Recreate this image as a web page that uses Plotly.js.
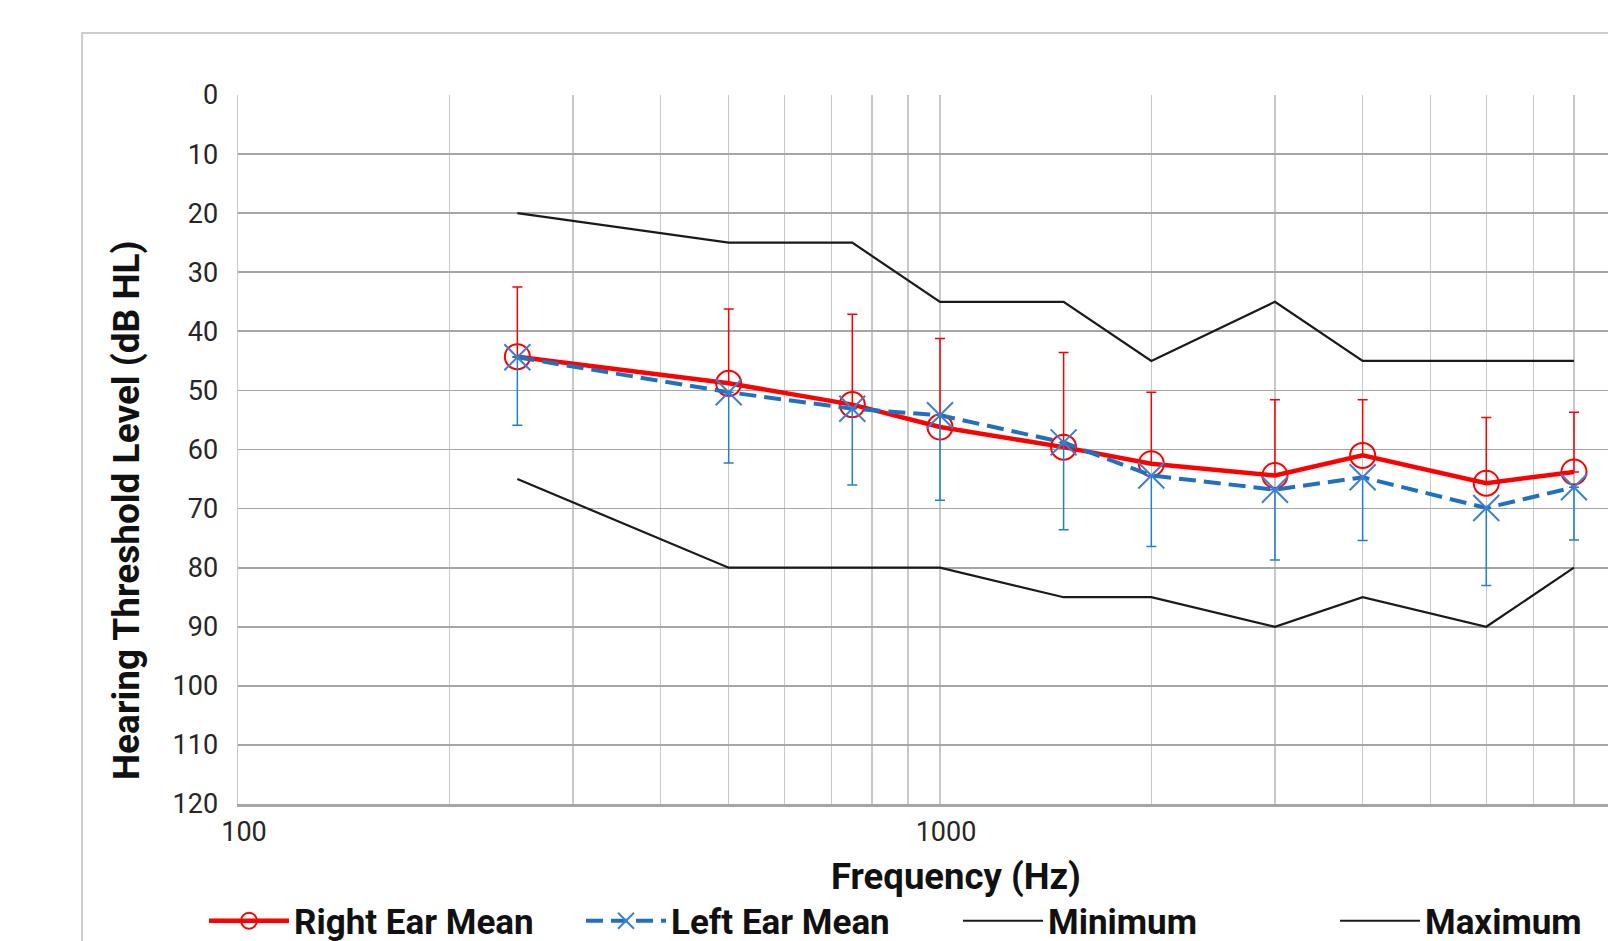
<!DOCTYPE html>
<html>
<head>
<meta charset="utf-8">
<script src="https://cdn.plot.ly/plotly-3.0.1.min.js"></script>
<style>
html, body { margin: 0; padding: 0; overflow: hidden; background: #ffffff; }
#chart { width: 1950px; height: 980px; }
</style>
</head>
<body>
<div id="chart"></div>
<script>
// ---- data ----
const frequencies = [250, 500, 750, 1000, 1500, 2000, 3000, 4000, 6000, 8000];
const rightEarMean = [44.3, 48.8, 52.4, 56.2, 59.6, 62.4, 64.4, 61.0, 65.7, 63.8];
const rightEarSD   = [11.8, 12.6, 15.3, 15.0, 16.0, 12.1, 12.8, 9.4, 11.1, 10.1];
const leftEarMean  = [44.4, 50.3, 53.1, 54.2, 58.8, 64.4, 66.8, 64.7, 69.9, 66.4];
const leftEarSD    = [11.5, 12.0, 12.9, 14.4, 14.8, 12.0, 11.9, 10.7, 13.1, 8.9];
const minimumHL    = [20, 25, 25, 35, 35, 45, 35, 45, 45, 45];
const maximumHL    = [65, 80, 80, 80, 85, 85, 90, 85, 90, 80];
const seriesNames  = ['Right Ear Mean', 'Left Ear Mean', 'Minimum', 'Maximum'];
const xTickVals    = [100, 1000, 10000];
const xTickText    = ['100', '1000', '10000'];
const xMinorVals   = [200, 300, 400, 500, 600, 700, 800, 900, 2000, 3000, 4000, 5000, 6000, 7000, 8000, 9000];
const yTickVals    = [0, 10, 20, 30, 40, 50, 60, 70, 80, 90, 100, 110, 120];
const xTitle = 'Frequency (Hz)';
const yTitle = 'Hearing Threshold Level (dB HL)';

const zeros = frequencies.map(() => 0);
const FONT = 'Roboto, "Open Sans", sans-serif';

const traces = [
  {
    name: seriesNames[0], x: frequencies, y: rightEarMean, type: 'scatter', mode: 'lines+markers',
    line: { color: '#ff0000', width: 4.5 },
    marker: { symbol: 'circle-open', size: 25, color: '#ff0000', line: { width: 2, color: '#ff0000' } },
    error_y: { type: 'data', symmetric: false, array: zeros, arrayminus: rightEarSD,
               color: '#ff0000', thickness: 1.5, width: 5 }
  },
  {
    name: seriesNames[1], x: frequencies, y: leftEarMean, type: 'scatter', mode: 'lines+markers',
    line: { color: '#1f70c1', width: 4, dash: '17px,8px' },
    marker: { symbol: 'x-thin-open', size: 26, color: '#3d7fd0', line: { width: 2, color: '#3d7fd0' } },
    error_y: { type: 'data', symmetric: false, array: leftEarSD, arrayminus: zeros,
               color: '#2080d0', thickness: 1.5, width: 5 }
  },
  {
    name: seriesNames[2], x: frequencies, y: minimumHL, type: 'scatter', mode: 'lines',
    line: { color: '#1a1a1a', width: 2.2 }
  },
  {
    name: seriesNames[3], x: frequencies, y: maximumHL, type: 'scatter', mode: 'lines',
    line: { color: '#1a1a1a', width: 2.2 }
  }
];

const W = 1950, H = 980;
const L = 238, T = 95, PW = 1404, PH = 709;
const px2x = p => (p - L) / PW;
const px2y = p => (T + PH - p) / PH;

const layout = {
  width: W, height: H,
  margin: { l: L, r: W - L - PW, t: T, b: H - T - PH, pad: 0 },
  paper_bgcolor: '#ffffff', plot_bgcolor: '#ffffff',
  font: { family: FONT, color: '#1a1a1a' },
  showlegend: true,
  legend: {
    orientation: 'h', x: px2x(204), xanchor: 'left', y: px2y(921), yanchor: 'middle',
    font: { family: FONT, size: 35, color: '#111111', weight: 'bold' },
    entrywidth: 282, itemwidth: 80, traceorder: 'normal', bgcolor: 'rgba(0,0,0,0)'
  },
  xaxis: {
    type: 'log', range: [2, 4], tickmode: 'array', tickvals: xTickVals, ticktext: xTickText,
    ticks: '', ticklabelstandoff: 2, ticklabelshift: 6,
    tickfont: { family: FONT, size: 27, color: '#262626' },
    showgrid: true, gridcolor: '#c8c8c8', gridwidth: 1.5,
    minor: { tickmode: 'array', tickvals: xMinorVals, showgrid: true, gridcolor: '#c8c8c8', gridwidth: 1.5, ticks: '' },
    showline: true, linecolor: '#a6a6a6', linewidth: 2.5, zeroline: false, fixedrange: true
  },
  yaxis: {
    range: [120, 0], tickmode: 'array', tickvals: yTickVals,
    ticks: '', ticklabelstandoff: 13,
    tickfont: { family: FONT, size: 27, color: '#262626' },
    showgrid: true, gridcolor: '#a6a6a6', gridwidth: 1.8,
    showline: true, linecolor: '#c8c8c8', linewidth: 1.5, zeroline: false, fixedrange: true
  },
  annotations: [
    { text: xTitle, xref: 'paper', yref: 'paper', x: px2x(956), y: px2y(876), xanchor: 'center', yanchor: 'middle',
      showarrow: false, font: { family: FONT, size: 36.5, color: '#111111', weight: 'bold' } },
    { text: yTitle, xref: 'paper', yref: 'paper', x: px2x(126), y: px2y(510), xanchor: 'center', yanchor: 'middle',
      textangle: -90, showarrow: false, font: { family: FONT, size: 37, color: '#111111', weight: 'bold' } }
  ],
  shapes: [
    { type: 'rect', xref: 'paper', yref: 'paper', x0: px2x(82), x1: px2x(1700), y0: px2y(975), y1: px2y(33),
      line: { color: '#bfbfbf', width: 1.5 }, fillcolor: 'rgba(0,0,0,0)', layer: 'below' }
  ]
};

Plotly.newPlot('chart', traces, layout, { staticPlot: true, displayModeBar: false });
</script>
</body>
</html>
